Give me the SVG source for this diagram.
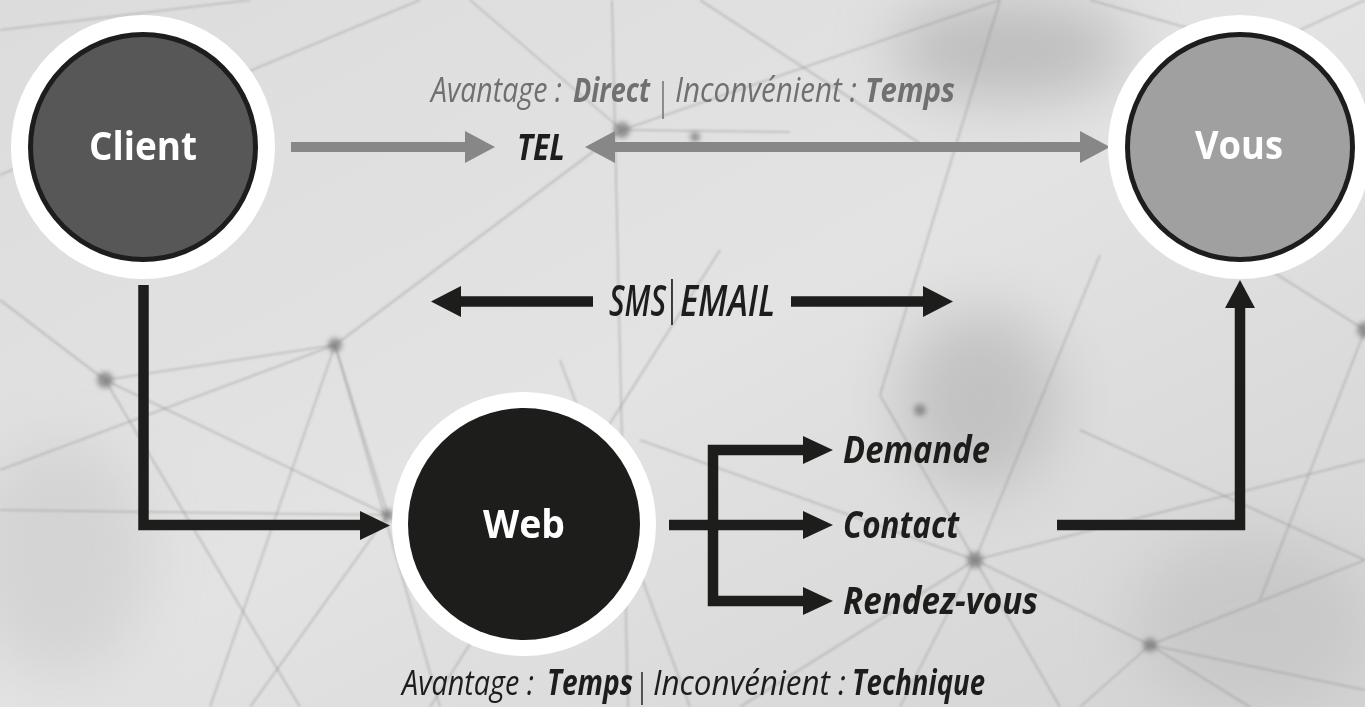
<svg xmlns="http://www.w3.org/2000/svg" width="1365" height="707" viewBox="0 0 1365 707">
<defs>
  <linearGradient id="bg" x1="0" y1="0" x2="1" y2="1">
    <stop offset="0" stop-color="#dcdcdc"/>
    <stop offset="0.5" stop-color="#e3e3e3"/>
    <stop offset="1" stop-color="#d3d3d3"/>
  </linearGradient>
  <filter id="blur" x="-50%" y="-50%" width="200%" height="200%"><feGaussianBlur stdDeviation="30"/></filter>
  <filter id="soft" x="-50%" y="-50%" width="200%" height="200%"><feGaussianBlur stdDeviation="2.5"/></filter>
  <filter id="soft1"><feGaussianBlur stdDeviation="0.9"/></filter>
  <style>
    .net line { stroke: #8c8c8c; stroke-width: 1.6; opacity: 0.45; }
    .dot { fill: #7a7a7a; opacity: 0.75; }
    .gray { stroke: #878787; stroke-width: 10; fill: none; }
    .grayhead { fill: #878787; }
    .blk { stroke: #1d1d1b; stroke-width: 10.5; fill: none; stroke-linejoin: miter; }
    .blkhead { fill: #1d1d1b; }
    .ring { fill: #ffffff; }
    .nodeT { font-family: "Open Sans", "Noto Sans", sans-serif; font-weight: 700; font-size: 40px; fill: #ffffff; text-anchor: middle; }
    .it { font-family: "Open Sans", "Noto Sans", sans-serif; font-style: italic; }
    .b { font-weight: 700; }
    .sb { font-weight: 600; }
    .bar { font-style: normal; font-weight: 400; }
  </style>
</defs>

<g id="background">
  <rect x="0" y="0" width="1365" height="707" fill="url(#bg)"/>
  <ellipse cx="1010" cy="50" rx="120" ry="50" fill="#9a9a9a" opacity="0.5" filter="url(#blur)"/>
  <ellipse cx="980" cy="400" rx="80" ry="90" fill="#a0a0a0" opacity="0.45" filter="url(#blur)"/>
  <ellipse cx="1250" cy="620" rx="120" ry="90" fill="#b5b5b5" opacity="0.4" filter="url(#blur)"/>
  <ellipse cx="60" cy="560" rx="90" ry="120" fill="#c0c0c0" opacity="0.4" filter="url(#blur)"/>
  <g class="net" filter="url(#soft1)">
    <line x1="612" y1="0" x2="628" y2="707"/>
    <line x1="622" y1="130" x2="1000" y2="0"/>
    <line x1="622" y1="130" x2="790" y2="132"/>
    <line x1="622" y1="130" x2="335" y2="345"/>
    <line x1="622" y1="130" x2="470" y2="0"/>
    <line x1="335" y1="345" x2="105" y2="380"/>
    <line x1="335" y1="345" x2="0" y2="470"/>
    <line x1="335" y1="345" x2="388" y2="515"/>
    <line x1="335" y1="345" x2="210" y2="707"/>
    <line x1="335" y1="345" x2="440" y2="707"/>
    <line x1="105" y1="380" x2="0" y2="300"/>
    <line x1="105" y1="380" x2="388" y2="515"/>
    <line x1="105" y1="380" x2="300" y2="707"/>
    <line x1="0" y1="510" x2="388" y2="515"/>
    <line x1="388" y1="515" x2="250" y2="707"/>
    <line x1="0" y1="175" x2="420" y2="0"/>
    <line x1="0" y1="30" x2="250" y2="0"/>
    <line x1="430" y1="707" x2="720" y2="250"/>
    <line x1="690" y1="707" x2="560" y2="360"/>
    <line x1="975" y1="560" x2="1100" y2="255"/>
    <line x1="975" y1="560" x2="640" y2="440"/>
    <line x1="975" y1="560" x2="1365" y2="460"/>
    <line x1="975" y1="560" x2="1150" y2="645"/>
    <line x1="975" y1="560" x2="900" y2="707"/>
    <line x1="975" y1="560" x2="1060" y2="707"/>
    <line x1="975" y1="560" x2="740" y2="707"/>
    <line x1="975" y1="560" x2="880" y2="395"/>
    <line x1="1150" y1="645" x2="1365" y2="560"/>
    <line x1="1150" y1="645" x2="1250" y2="707"/>
    <line x1="1150" y1="645" x2="1365" y2="690"/>
    <line x1="1150" y1="645" x2="1080" y2="707"/>
    <line x1="1365" y1="330" x2="1270" y2="270"/>
    <line x1="1365" y1="330" x2="1260" y2="600"/>
    <line x1="1300" y1="30" x2="1365" y2="0"/>
    <line x1="1090" y1="0" x2="1230" y2="40"/>
    <line x1="700" y1="0" x2="930" y2="150"/>
    <line x1="880" y1="395" x2="1000" y2="0"/>
    <line x1="1080" y1="430" x2="1365" y2="560"/>
  </g>
  <g filter="url(#soft)">
    <circle class="dot" cx="622" cy="130" r="8"/>
    <circle class="dot" cx="335" cy="345" r="7"/>
    <circle class="dot" cx="105" cy="380" r="8"/>
    <circle class="dot" cx="975" cy="560" r="8"/>
    <circle class="dot" cx="1150" cy="645" r="7"/>
    <circle class="dot" cx="1365" cy="330" r="8"/>
    <circle class="dot" cx="388" cy="515" r="6"/>
    <circle class="dot" cx="695" cy="137" r="5"/>
    <circle class="dot" cx="920" cy="410" r="6"/>
  </g>
</g>

<g id="connectors">
  <line class="gray" x1="291" y1="147" x2="467" y2="147"/>
  <polygon class="grayhead" points="465,131 495,147 465,163"/>
  <line class="gray" x1="613" y1="147" x2="1082" y2="147"/>
  <polygon class="grayhead" points="615,131 585,147 615,163"/>
  <polygon class="grayhead" points="1080,131 1110,147 1080,163"/>

  <line class="blk" x1="459" y1="301.5" x2="593" y2="301.5"/>
  <polygon class="blkhead" points="461,286 431,301.5 461,317"/>
  <line class="blk" x1="791" y1="301.5" x2="925" y2="301.5"/>
  <polygon class="blkhead" points="923,286 953,301.5 923,317"/>

  <path class="blk" d="M143.5,285 V525 H362"/>
  <polygon class="blkhead" points="360,511 390,525.5 360,540"/>

  <line class="blk" x1="669" y1="525" x2="805" y2="525"/>
  <path class="blk" d="M805,450 H713 V601 H805"/>
  <polygon class="blkhead" points="803,436 833,450 803,464"/>
  <polygon class="blkhead" points="803,511 833,525 803,539"/>
  <polygon class="blkhead" points="803,587 833,601 803,615"/>

  <path class="blk" d="M1057,525 H1240 V306"/>
  <polygon class="blkhead" points="1225,308 1240,280 1255,308"/>
</g>

<g id="node-client">
  <circle class="ring" cx="143" cy="147" r="132"/>
  <circle cx="143" cy="147" r="112.5" fill="#575757" stroke="#1d1d1b" stroke-width="5"/>
  <text class="nodeT" x="143" y="160" textLength="108" lengthAdjust="spacingAndGlyphs">Client</text>
</g>

<g id="node-vous">
  <circle class="ring" cx="1240" cy="147" r="132"/>
  <circle cx="1240" cy="147" r="112.5" fill="#a0a0a0" stroke="#1d1d1b" stroke-width="5"/>
  <text class="nodeT" x="1239" y="159" textLength="88" lengthAdjust="spacingAndGlyphs">Vous</text>
</g>

<g id="node-web">
  <circle class="ring" cx="524" cy="524" r="132"/>
  <circle cx="524" cy="524" r="116" fill="#1d1d1b"/>
  <text class="nodeT" x="524" y="538" textLength="82" lengthAdjust="spacingAndGlyphs">Web</text>
</g>

<g id="label-tel">
  <text class="it b" x="517" y="160" font-size="36" fill="#1d1d1b" textLength="48" lengthAdjust="spacingAndGlyphs">TEL</text>
</g>

<g id="label-tel-note">
  <text class="it" y="102" fill="#707070" font-size="34"><tspan x="431" textLength="131" lengthAdjust="spacingAndGlyphs">Avantage :</tspan><tspan class="b" x="573" textLength="77" lengthAdjust="spacingAndGlyphs">Direct</tspan><tspan class="bar" x="657" y="110" font-size="38" textLength="12" lengthAdjust="spacingAndGlyphs">|</tspan><tspan x="675" y="102" textLength="182" lengthAdjust="spacingAndGlyphs">Inconvénient :</tspan><tspan class="b" x="865" textLength="90" lengthAdjust="spacingAndGlyphs">Temps</tspan></text>
</g>

<g id="label-sms">
  <text class="it sb" y="316" fill="#1d1d1b" font-size="44"><tspan x="609" textLength="57" lengthAdjust="spacingAndGlyphs">SMS</tspan><tspan class="bar" x="665" y="314" font-size="46" textLength="14" lengthAdjust="spacingAndGlyphs">|</tspan><tspan x="680" y="316" textLength="95" lengthAdjust="spacingAndGlyphs">EMAIL</tspan></text>
</g>

<g id="label-branches" fill="#1d1d1b" font-size="37">
  <text class="it b" x="843" y="463" textLength="147" lengthAdjust="spacingAndGlyphs">Demande</text>
  <text class="it b" x="843" y="538" textLength="116" lengthAdjust="spacingAndGlyphs">Contact</text>
  <text class="it b" x="843" y="614" textLength="195" lengthAdjust="spacingAndGlyphs">Rendez-vous</text>
</g>

<g id="label-web-note">
  <text class="it" y="695" fill="#1d1d1b" font-size="35"><tspan x="402" textLength="132" lengthAdjust="spacingAndGlyphs">Avantage :</tspan><tspan class="b" x="547" textLength="86" lengthAdjust="spacingAndGlyphs">Temps</tspan><tspan class="bar" x="636" y="697" font-size="33" textLength="12" lengthAdjust="spacingAndGlyphs">|</tspan><tspan x="653" y="695" textLength="193" lengthAdjust="spacingAndGlyphs">Inconvénient :</tspan><tspan class="b" x="852" textLength="133" lengthAdjust="spacingAndGlyphs">Technique</tspan></text>
</g>
</svg>
